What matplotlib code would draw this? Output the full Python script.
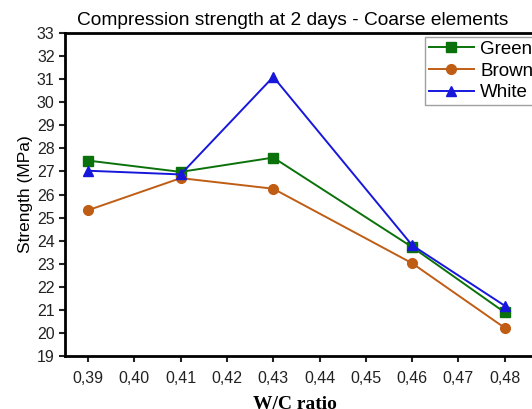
import matplotlib
matplotlib.use("Agg")
import matplotlib.pyplot as plt

wc_ratio = [0.39, 0.41, 0.43, 0.46, 0.48]
green = [27.47, 26.98, 27.6, 23.72, 20.89]
brown = [25.32, 26.71, 26.25, 23.02, 20.22]
white = [27.03, 26.87, 31.1, 23.8, 21.18]
xticks = [0.39, 0.40, 0.41, 0.42, 0.43, 0.44, 0.45, 0.46, 0.47, 0.48]
xticklabels = ["0,39", "0,40", "0,41", "0,42", "0,43", "0,44", "0,45", "0,46", "0,47", "0,48"]
yticks = list(range(19, 34))

plt.rcParams['font.family'] = ['Liberation Sans', 'DejaVu Sans']

W, H = 532, 409
fig = plt.figure(figsize=(W / 100, H / 100), dpi=100)
left, right, top, bottom = 65, 551, 33, 356
ax = fig.add_axes([left / W, 1 - bottom / H, (right - left) / W, (bottom - top) / H])

c_green = '#0b720b'
c_brown = '#c05d14'
c_blue = '#1717dc'

ax.plot(wc_ratio, green, color=c_green, marker='s', markersize=6.5, lw=1.4, label='Green')
ax.plot(wc_ratio, brown, color=c_brown, marker='o', markersize=7, lw=1.4, label='Brown')
ax.plot(wc_ratio, white, color=c_blue, marker='^', markersize=7.5, lw=1.4, label='White')

ax.set_xlim(0.385, 0.49)
ax.set_ylim(19, 33)
ax.set_xticks(xticks)
ax.set_xticklabels(xticklabels)
ax.set_yticks(yticks)
ax.tick_params(axis='both', direction='out', length=4, width=1.5, labelsize=11.5, colors='#222222')
ax.tick_params(axis='x', pad=7)
for s in ax.spines.values():
    s.set_linewidth(2)
    s.set_color('black')

ax.set_title('Compression strength at 2 days - Coarse elements', fontsize=13.8, x=0.469, pad=5.5)
ax.set_ylabel('Strength (MPa)', fontsize=12.5, labelpad=3)
ax.set_xlabel('W/C ratio', fontsize=14, fontweight='bold', family='Liberation Serif',
              x=0.473, labelpad=7)

leg = ax.legend(loc='upper left', bbox_to_anchor=((425 - left) / (right - left), 1 - (37 - top) / (bottom - top)),
                fontsize=13.5, frameon=True, fancybox=False, borderaxespad=0,
                handlelength=2.4, handletextpad=0.35, labelspacing=0.24, borderpad=0.2)
leg.get_frame().set_edgecolor('#888888')
leg.get_frame().set_linewidth(1)

fig.savefig('out.png', dpi=100)
